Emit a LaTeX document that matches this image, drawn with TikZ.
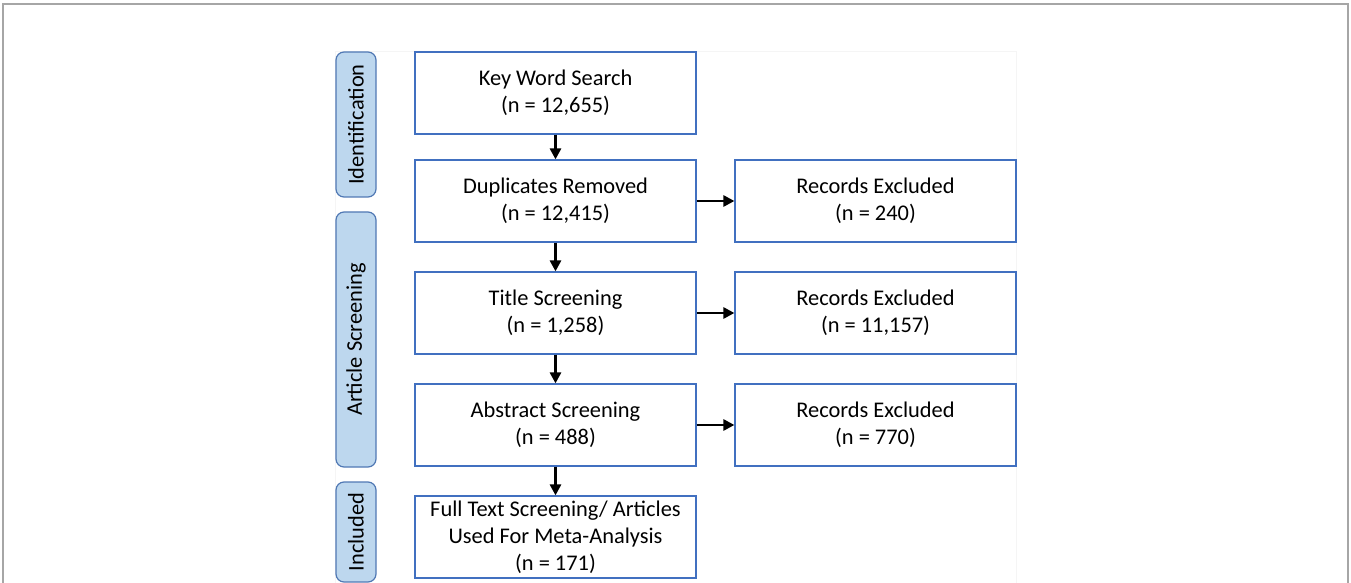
\documentclass[tikz,border=0pt]{standalone}
\usepackage{fontspec}
\setmainfont{Carlito}
\usetikzlibrary{arrows.meta}
\definecolor{boxblue}{HTML}{4170C0}
\definecolor{tabfill}{HTML}{BDD7EE}
\definecolor{tabline}{HTML}{5078B4}
\definecolor{frame}{HTML}{A6A6A6}
\tikzset{
  stagebox/.style={draw=boxblue, line width=0.6pt, minimum width=140.5pt, minimum height=41pt,
    inner sep=0pt, align=center, font=\fontsize{11.2}{13.4}\selectfont},
  phasetab/.style={draw=tabline, fill=tabfill, line width=0.6pt, rounded corners=4pt, rotate=90,
    minimum height=20pt, inner sep=0pt, font=\fontsize{11.2}{13.4}\selectfont},
  flow/.style={-{Triangle[length=5.5pt,width=5.5pt]}, line width=1.4pt}
}
\begin{document}
\begin{tikzpicture}[x=0.5pt,y=-0.5pt]
  \useasboundingbox (0,0) rectangle (1351,583);
  \draw[frame, line width=1pt] (3,583) -- (3,4) -- (1348,4) -- (1348,583);
  \draw[black!4, line width=0.4pt] (335,583) -- (335,51) -- (1016,51) -- (1016,583);
  % phase tabs
  \node[phasetab, minimum width=72.5pt] (ident) at (356,124.5) {Identification};
  \node[phasetab, minimum width=127.5pt] (screen) at (356,339.5) {Article Screening};
  \node[phasetab, minimum width=50pt] (incl) at (356,532) {Included};
  % main column
  \node[stagebox] (search) at (555.5,93) {Key Word Search\\(n = 12,655)};
  \node[stagebox] (dupl) at (555.5,201) {Duplicates Removed\\(n = 12,415)};
  \node[stagebox] (title) at (555.5,313) {Title Screening\\(n = 1,258)};
  \node[stagebox] (abstr) at (555.5,425) {Abstract Screening\\(n = 488)};
  \node[stagebox] (full) at (555.5,537) {Full Text Screening/ Articles\\Used For Meta-Analysis\\(n = 171)};
  % excluded column
  \node[stagebox] (excl1) at (875.5,201) {Records Excluded\\(n = 240)};
  \node[stagebox] (excl2) at (875.5,313) {Records Excluded\\(n = 11,157)};
  \node[stagebox] (excl3) at (875.5,425) {Records Excluded\\(n = 770)};
  % arrows
  \draw[flow] (search) -- (dupl);
  \draw[flow] (dupl) -- (title);
  \draw[flow] (title) -- (abstr);
  \draw[flow] (abstr) -- (full);
  \draw[flow] (dupl) -- (excl1);
  \draw[flow] (title) -- (excl2);
  \draw[flow] (abstr) -- (excl3);
\end{tikzpicture}
\end{document}
